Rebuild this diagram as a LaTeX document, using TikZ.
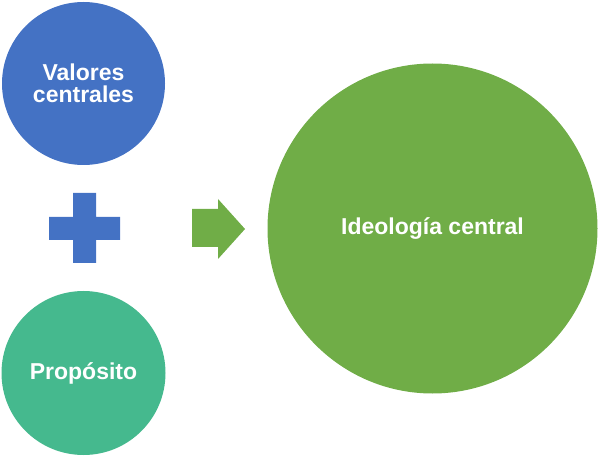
\documentclass[tikz,border=0pt]{standalone}
\usepackage{fontspec}
\setmainfont{Liberation Sans}
\definecolor{valblue}{HTML}{4472C4}
\definecolor{proteal}{HTML}{45B98E}
\definecolor{idegreen}{HTML}{70AD47}
\tikzset{
  bubble/.style={circle, inner sep=0pt, text=white, align=center,
    font=\fontsize{23}{22}\selectfont\bfseries}
}
\begin{document}
\begin{tikzpicture}[x=1pt,y=-1pt]
\useasboundingbox (0,0) rectangle (600,457);
% circles
\node[bubble, fill=valblue, minimum size=163pt] (valores) at (83.5,83.5) {Valores\\centrales};
\node[bubble, fill=proteal, minimum size=164pt] (proposito) at (83.5,373) {Propósito};
\node[bubble, fill=idegreen, minimum size=330pt] (ideologia) at (432.5,228.5) {Ideología central};
% plus sign
\fill[valblue] (73,193) -- (96,193) -- (96,217) -- (120,217) -- (120,240) -- (96,240)
  -- (96,263) -- (73,263) -- (73,240) -- (49,240) -- (49,217) -- (73,217) -- cycle;
% arrow
\fill[idegreen] (192,209) -- (218,209) -- (218,199) -- (245,229) -- (218,259)
  -- (218,247) -- (192,247) -- cycle;
\end{tikzpicture}
\end{document}
